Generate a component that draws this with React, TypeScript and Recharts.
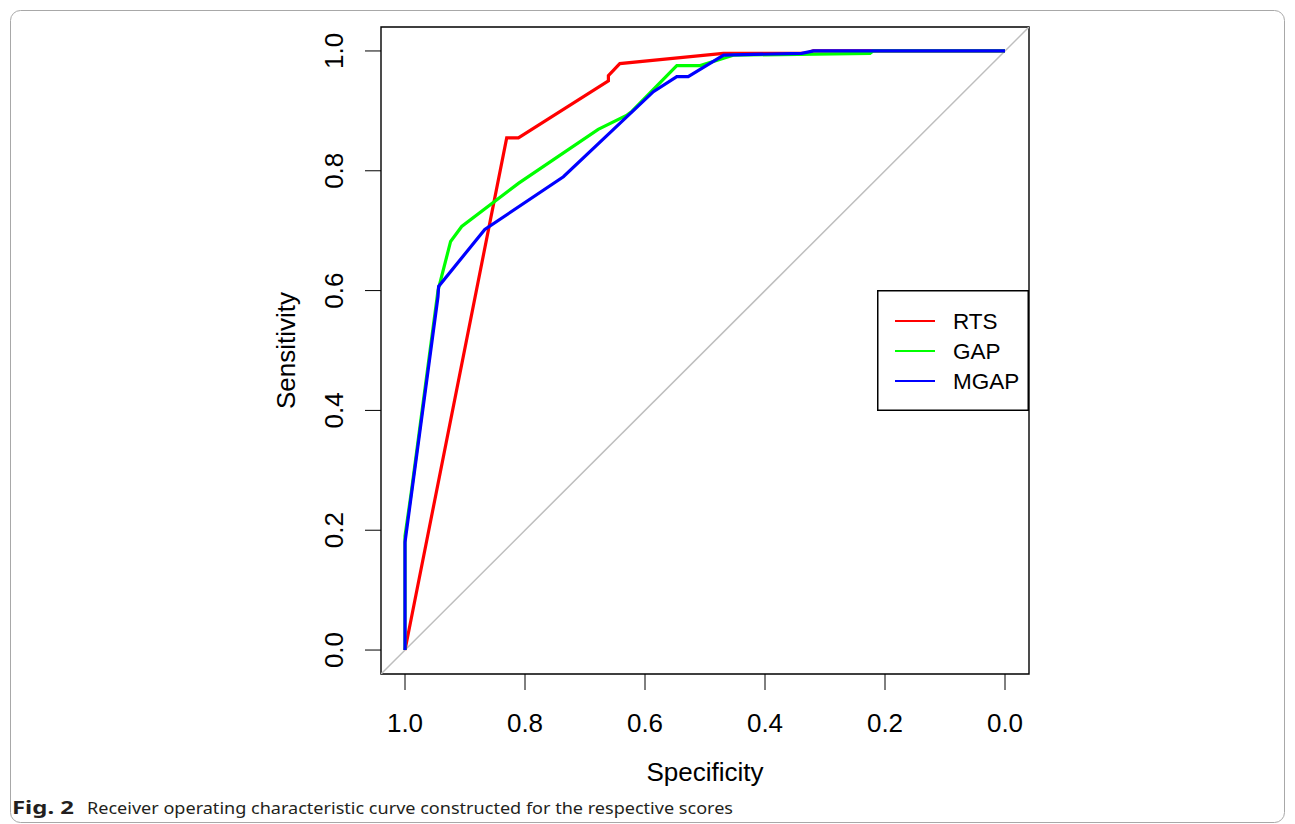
import React from 'react';
import { LineChart, Line, XAxis, YAxis, ReferenceArea, Legend, Label } from 'recharts';

// ROC points (specificity, sensitivity)
const rtsSpec = [1, 0.8305, 0.811, 0.661, 0.661, 0.642, 0.4695, 0.33, 0.32, 0];
const rtsSens = [0, 0.855, 0.855, 0.95, 0.959, 0.979, 0.996, 0.996, 1, 1];

const gapSpec = [1, 1, 0.99, 0.945, 0.924, 0.9055, 0.811, 0.678, 0.63, 0.622, 0.547, 0.508, 0.469, 0.453, 0.225, 0.22, 0];
const gapSens = [0, 0.19, 0.26, 0.6, 0.682, 0.707, 0.779, 0.869, 0.893, 0.899, 0.9755, 0.9755, 0.988, 0.993, 0.996, 1, 1];

const mgapSpec = [1, 1, 0.945, 0.944, 0.867, 0.736, 0.586, 0.547, 0.528, 0.469, 0.339, 0.319, 0];
const mgapSens = [0, 0.18, 0.59, 0.607, 0.702, 0.79, 0.932, 0.957, 0.957, 0.993, 0.996, 1, 1];

const diagSpec = [1.04, -0.04];
const diagSens = [-0.04, 1.04];

const axisTicks = [0, 0.2, 0.4, 0.6, 0.8, 1];

const seriesNames = ['RTS', 'GAP', 'MGAP'];
const seriesColors = ['#ff0000', '#00ff00', '#0000ff'];

const zip = (spec: number[], sens: number[]) => spec.map((s, i) => ({ spec: s, sens: sens[i] }));

const rtsData = zip(rtsSpec, rtsSens);
const gapData = zip(gapSpec, gapSens);
const mgapData = zip(mgapSpec, mgapSens);
const diagData = zip(diagSpec, diagSens);

const FONT = '"Liberation Sans", Arial, sans-serif';

const XTick = (props: any) => {
    const { x, y, payload } = props;
    return (
        <text x={x} y={y + 40} textAnchor="middle" fontSize={26} fontFamily={FONT} fill="#000">
            {payload.value.toFixed(1)}
        </text>
    );
};

const YTick = (props: any) => {
    const { x, y, payload } = props;
    const tx = x - 20;
    return (
        <text x={tx} y={y} transform={`rotate(-90 ${tx} ${y})`} textAnchor="middle" fontSize={26} fontFamily={FONT} fill="#000">
            {payload.value.toFixed(1)}
        </text>
    );
};

const LegendBox = () => (
    <svg width={152} height={121} style={{ display: 'block' }}>
        <rect x={0.75} y={0.75} width={150.5} height={119.5} fill="#fff" stroke="#000" strokeWidth={1.5} />
        {seriesNames.map((name, i) => (
            <g key={name}>
                <line x1={18} x2={58} y1={31 + i * 30} y2={31 + i * 30} stroke={seriesColors[i]} strokeWidth={2} />
                <text x={76} y={39 + i * 30} fontSize={22.5} fontFamily={FONT} fill="#000">{name}</text>
            </g>
        ))}
    </svg>
);

export default function App() {
    return (
        <div style={{ position: 'absolute', left: 0, top: 0, width: 1295, height: 824, background: '#fff', overflow: 'hidden' }}>
            <svg width={1295} height={824} style={{ position: 'absolute', left: 0, top: 0 }}>
                <rect x={10.5} y={10.5} width={1274} height={812} rx={10} fill="none" stroke="#a8a8a8" strokeWidth={1} />
                <text x={12} y={814} fontSize={17} fontWeight={700} fontFamily='"Noto Sans", sans-serif' fill="#231f20" textLength={62} lengthAdjust="spacingAndGlyphs">
                    Fig. 2
                </text>
                <text x={87} y={814} fontSize={17} fontFamily='"Noto Sans", sans-serif' fill="#231f20" textLength={646} lengthAdjust="spacingAndGlyphs">
                    Receiver operating characteristic curve constructed for the respective scores
                </text>
            </svg>
            <div style={{ position: 'absolute', left: 0, top: 0 }}>
                <LineChart width={1295} height={824} margin={{ top: 27, right: 266, bottom: 0, left: 0 }}>
                    <XAxis
                        type="number"
                        dataKey="spec"
                        domain={[-0.04, 1.04]}
                        allowDataOverflow
                        reversed
                        ticks={axisTicks}
                        interval={0}
                        height={150}
                        axisLine={false}
                        tickSize={16}
                        stroke="#000"
                        tick={<XTick />}
                    >
                        <Label
                            content={({ viewBox }: any) => (
                                <text x={viewBox.x + viewBox.width / 2} y={viewBox.y + 107} textAnchor="middle" fontSize={26} fontFamily={FONT} fill="#000">
                                    Specificity
                                </text>
                            )}
                        />
                    </XAxis>
                    <YAxis
                        type="number"
                        dataKey="sens"
                        domain={[-0.04, 1.04]}
                        allowDataOverflow
                        ticks={axisTicks}
                        interval={0}
                        width={381}
                        axisLine={false}
                        tickSize={16}
                        stroke="#000"
                        tick={<YTick />}
                    >
                        <Label
                            content={({ viewBox }: any) => {
                                const cx = viewBox.x + viewBox.width - 86;
                                const cy = viewBox.y + viewBox.height / 2;
                                return (
                                    <text x={cx} y={cy} transform={`rotate(-90 ${cx} ${cy})`} textAnchor="middle" fontSize={26} fontFamily={FONT} fill="#000">
                                        Sensitivity
                                    </text>
                                );
                            }}
                        />
                    </YAxis>
                    <ReferenceArea x1={1.04} x2={-0.04} y1={-0.04} y2={1.04} fill="none" stroke="#000" strokeWidth={1.4} fillOpacity={0} />
                    <Line data={diagData} dataKey="sens" type="linear" stroke="#bebebe" strokeWidth={1.5} dot={false} activeDot={false} isAnimationActive={false} legendType="none" />
                    <Line data={rtsData} dataKey="sens" name="RTS" type="linear" stroke={seriesColors[0]} strokeWidth={3.2} dot={false} activeDot={false} isAnimationActive={false} />
                    <Line data={gapData} dataKey="sens" name="GAP" type="linear" stroke={seriesColors[1]} strokeWidth={3.2} dot={false} activeDot={false} isAnimationActive={false} />
                    <Line data={mgapData} dataKey="sens" name="MGAP" type="linear" stroke={seriesColors[2]} strokeWidth={3.2} dot={false} activeDot={false} isAnimationActive={false} />
                    <Legend
                        layout="horizontal"
                        verticalAlign="middle"
                        align="center"
                        content={() => <LegendBox />}
                        wrapperStyle={{ position: 'absolute', left: 877, top: 290, width: 152, height: 121 }}
                    />
                </LineChart>
            </div>
        </div>
    );
}
